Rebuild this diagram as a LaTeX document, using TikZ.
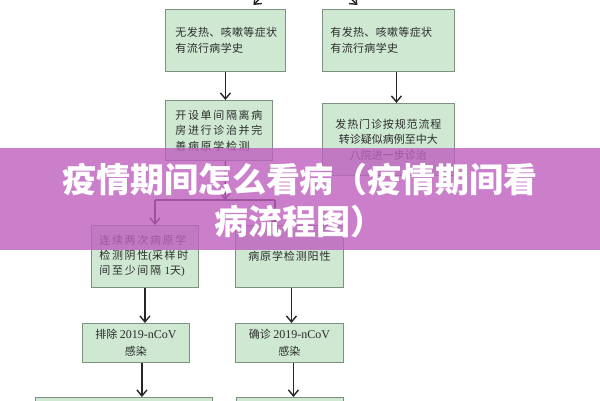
\documentclass[tikz,border=0pt]{standalone}
\usepackage{fontspec}
\newfontfamily\cjk{Noto Sans CJK SC}
\newfontfamily\lat{Liberation Serif}
\usetikzlibrary{arrows.meta}
\definecolor{boxgreen}{RGB}{206,232,210}
\definecolor{boxedge}{RGB}{125,145,128}
\definecolor{inkgray}{RGB}{45,45,45}
\definecolor{banner}{RGB}{190,95,190}

\begin{document}
\begin{tikzpicture}[x=1pt,y=-1pt]
\tikzstyle{every node}=[font=\cjk\fontsize{11}{16}\selectfont, text=inkgray]
\tikzstyle{box}=[draw=boxedge, fill=boxgreen, line width=0.9pt, anchor=north west, inner sep=0pt]
\tikzstyle{arr}=[-{Straight Barb[length=6pt,width=10pt]}, line width=1.4pt, draw=black!85]
\useasboundingbox (0,0) rectangle (600,400);
\clip (0,0) rectangle (600,400);

% first row
\node[box, text width=100pt, inner xsep=10pt, minimum height=62pt, align=left] (a) at (165,9) {\addfontfeature{LetterSpace=3}无发热、咳嗽等症状\\有流行病学史};
\node[box, text width=116pt, inner xsep=8pt, minimum height=62pt, align=left] (b) at (322,9) {\addfontfeature{LetterSpace=3}有发热、咳嗽等症状\\有流行病学史};

% second row
\node[box, text width=87pt, inner xsep=10pt, minimum height=60pt, align=left, font=\cjk\fontsize{11}{15.5}\selectfont] (c) at (165,100) {\addfontfeature{LetterSpace=15}开设单间隔离病\\房进行诊治并完\\善病原学检测};
\node[box, minimum width=132pt, minimum height=72pt, align=center, font=\cjk\fontsize{11}{15.5}\selectfont] (d) at (322,103) {\addfontfeature{LetterSpace=8}发热门诊按规范流程\\转诊疑似病例至中大\\八院进一步诊治};

% test results
\node[box, text width=91pt, inner xsep=8pt, minimum height=62pt, align=left, font=\cjk\fontsize{11}{15}\selectfont] (e) at (91,225) {\addfontfeature{LetterSpace=15}连续两次病原学\\检测阴性{\lat(}采样时\\间至少间隔 {\lat 1}天{\lat)}};
\node[box, minimum width=108pt, minimum height=62pt, align=center] (f) at (235,225) {\addfontfeature{LetterSpace=8}病原学检测阳性};

% outcome
\node[box, minimum width=107pt, minimum height=39pt, align=center, font=\cjk\fontsize{11}{17}\selectfont] (g) at (82,323) {排除 {\lat\fontsize{12}{17}\selectfont 2019-nCoV}\\感染};
\node[box, minimum width=108pt, minimum height=39pt, align=center, font=\cjk\fontsize{11}{17}\selectfont] (h) at (235,323) {确诊 {\lat\fontsize{12}{17}\selectfont 2019-nCoV}\\感染};

% next row (cut off)
\node[box, minimum width=177pt, minimum height=40pt] (i) at (35,397) {};
\node[box, minimum width=107pt, minimum height=40pt] (j) at (236,397) {};

% connectors
\coordinate (upl) at (283,-25);
\coordinate (upr) at (327,-25);
\draw[arr] (upl) -- ([xshift=28pt,yshift=4pt]a.north);
\draw[arr] (upr) -- ([xshift=-31pt,yshift=4pt]b.north);
\draw[arr] (a.south) -- (a.south |- c.north);
\draw[arr] ([xshift=8pt]b.south) -- ([xshift=8pt]b.south |- d.north);

\coordinate (fork) at (225,200);
\coordinate (forkl) at (155,200);
\coordinate (forkr) at (275,200);
\draw[arr] (a.south |- c.south) -- (fork);
\draw[line width=1.4pt, draw=black!85] (forkl) -- (forkr);
\draw[arr] (forkl) -- (forkl |- e.north);
\draw[arr] (forkr) -- (forkr |- f.north);

\draw[arr] (e.south) -- (e.south |- g.north);
\draw[arr] ([xshift=2pt]f.south) -- ([xshift=2pt]f.south |- h.north);
\draw[arr] ([xshift=6pt]g.south) -- ([xshift=6pt]g.south |- i.north);
\draw[arr] ([xshift=4pt]h.south) -- ([xshift=4pt]h.south |- j.north);

% title banner
\fill[banner, opacity=0.8] (0,148) rectangle (600,250);
\node[font=\cjk\bfseries\fontsize{34}{42}\selectfont, text=white, align=center] (title) at (300,201) {疫情期间怎么看病（疫情期间看\\病流程图）};

\end{tikzpicture}
\end{document}
